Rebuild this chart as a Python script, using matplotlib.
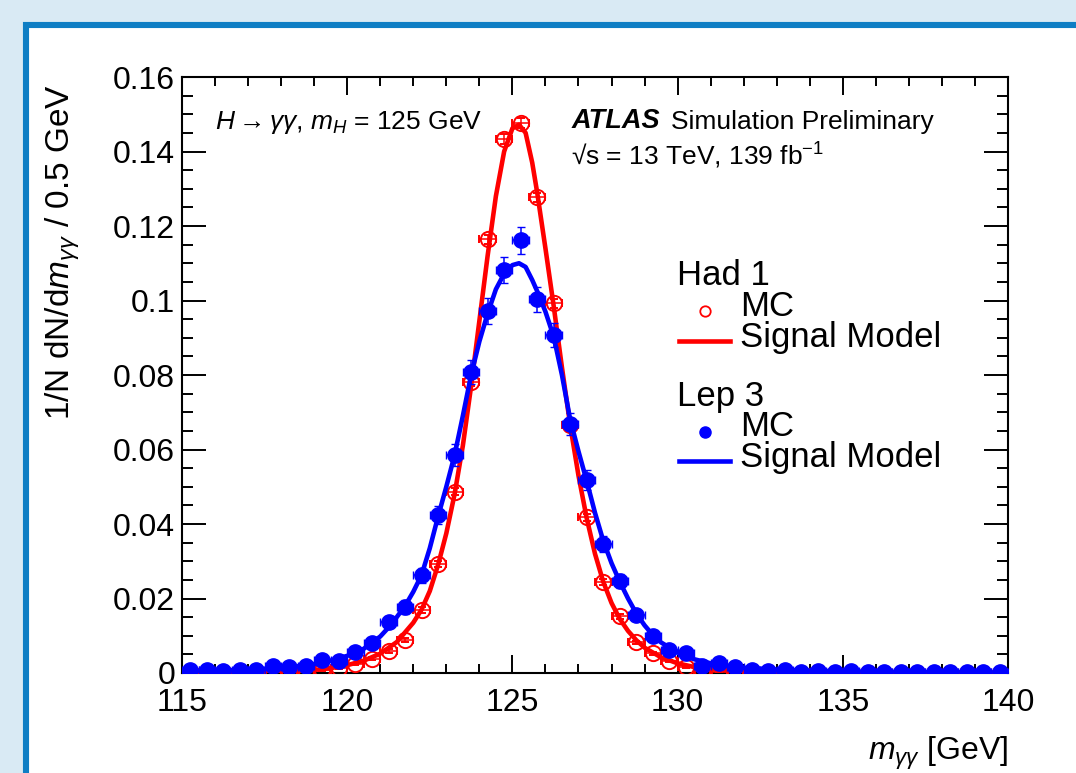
import numpy as np
import matplotlib
matplotlib.use("Agg")
import matplotlib.pyplot as plt
from matplotlib.patches import Rectangle
from matplotlib.lines import Line2D
from matplotlib.ticker import MultipleLocator, FuncFormatter

plt.rcParams['font.family'] = ['Liberation Sans', 'DejaVu Sans']
plt.rcParams['mathtext.fontset'] = 'custom'
plt.rcParams['mathtext.rm'] = 'Liberation Sans'
plt.rcParams['mathtext.it'] = 'Liberation Sans:italic'
plt.rcParams['mathtext.bf'] = 'Liberation Sans:bold'

# ---------------- data ----------------
bin_lo, bin_hi, bin_w = 115.0, 140.0, 0.5
bin_centres = np.arange(bin_lo + bin_w / 2, bin_hi, bin_w)

had1_mc = [0.0002, 0.0002, 0.0002, 0.0003, 0.0002, 0.0004, 0.0005, 0.0006, 0.0008, 0.0013,
           0.0024, 0.0038, 0.0060, 0.0089, 0.0168, 0.0293, 0.0487, 0.0782, 0.1164, 0.1433,
           0.1476, 0.1277, 0.0992, 0.0665, 0.0418, 0.0245, 0.0152, 0.0082, 0.0053, 0.0033,
           0.0017, 0.0006, 0.0004, 0.0003, 0.0002, 0.0002, 0.0002, 0.0001, 0.0002, 0.0001,
           0.0001, 0.0001, 0.0001, 0.0001, 0.0001, 0.0000, 0.0001, 0.0000, 0.0000, 0.0001]
had1_err = [0.0001, 0.0001, 0.0001, 0.0001, 0.0001, 0.0001, 0.0002, 0.0002, 0.0002, 0.0003,
            0.0003, 0.0004, 0.0005, 0.0006, 0.0008, 0.0009, 0.0010, 0.0011, 0.0012, 0.0013,
            0.0013, 0.0012, 0.0011, 0.0010, 0.0009, 0.0008, 0.0007, 0.0005, 0.0004, 0.0003,
            0.0003, 0.0002, 0.0002, 0.0001, 0.0001, 0.0001, 0.0001, 0.0001, 0.0001, 0.0001,
            0.0001, 0.0001, 0.0001, 0.0001, 0.0001, 0.0001, 0.0001, 0.0001, 0.0001, 0.0001]

lep3_mc = [0.0008, 0.0008, 0.0005, 0.0009, 0.0008, 0.0018, 0.0017, 0.0018, 0.0034, 0.0031,
           0.0057, 0.0080, 0.0137, 0.0177, 0.0262, 0.0424, 0.0585, 0.0809, 0.0972, 0.1082,
           0.1162, 0.1003, 0.0907, 0.0668, 0.0518, 0.0346, 0.0247, 0.0157, 0.0099, 0.0061,
           0.0053, 0.0018, 0.0027, 0.0017, 0.0008, 0.0006, 0.0008, 0.0004, 0.0005, 0.0004,
           0.0005, 0.0003, 0.0004, 0.0003, 0.0004, 0.0003, 0.0003, 0.0002, 0.0003, 0.0003]
lep3_err = [0.0004, 0.0004, 0.0003, 0.0004, 0.0004, 0.0006, 0.0006, 0.0006, 0.0008, 0.0008,
            0.0010, 0.0012, 0.0015, 0.0018, 0.0021, 0.0025, 0.0029, 0.0032, 0.0034, 0.0035,
            0.0036, 0.0034, 0.0033, 0.0030, 0.0026, 0.0022, 0.0019, 0.0015, 0.0012, 0.0010,
            0.0009, 0.0006, 0.0007, 0.0006, 0.0004, 0.0003, 0.0004, 0.0003, 0.0003, 0.0003,
            0.0003, 0.0002, 0.0003, 0.0002, 0.0003, 0.0002, 0.0002, 0.0002, 0.0002, 0.0002]

# signal model curves
had1_model_x = [115.0, 117.0, 118.0, 119.0, 119.5, 120.0, 120.5, 121.0, 121.5, 122.0, 122.25,
                122.5, 122.75, 123.0, 123.25, 123.5, 123.75, 124.0, 124.25, 124.5, 124.75,
                125.0, 125.2, 125.4, 125.6, 125.75, 126.0, 126.25, 126.5, 126.75, 127.0,
                127.25, 127.5, 127.75, 128.0, 128.25, 128.5, 128.75, 129.0, 129.5, 130.0,
                130.5, 131.0, 132.0, 134.0, 136.0, 140.0]
had1_model_y = [0.0001, 0.0002, 0.0004, 0.0008, 0.0013, 0.0021, 0.0033, 0.0052, 0.0083, 0.0135, 0.0170,
                0.0220, 0.0290, 0.0375, 0.0480, 0.0610, 0.0770, 0.0945, 0.1120, 0.1280, 0.1400,
                0.1462, 0.1472, 0.1450, 0.1370, 0.1290, 0.1140, 0.0985, 0.0820, 0.0665, 0.0530,
                0.0415, 0.0320, 0.0245, 0.0188, 0.0145, 0.0113, 0.0088, 0.0068, 0.0042, 0.0026,
                0.0016, 0.0010, 0.0005, 0.0002, 0.0001, 0.0000]

lep3_model_x = [115.0, 116.0, 117.0, 118.0, 118.5, 119.0, 119.5, 120.0, 120.5, 121.0, 121.25,
                121.5, 121.75, 122.0, 122.25, 122.5, 122.75, 123.0, 123.25, 123.5, 123.75,
                124.0, 124.25, 124.5, 124.75, 125.0, 125.2, 125.4, 125.6, 125.75, 126.0,
                126.25, 126.5, 126.75, 127.0, 127.25, 127.5, 127.75, 128.0, 128.25, 128.5,
                128.75, 129.0, 129.25, 129.5, 130.0, 130.5, 131.0, 131.5, 132.0, 133.0,
                134.0, 136.0, 138.0, 140.0]
lep3_model_y = [0.0004, 0.0006, 0.0009, 0.0014, 0.0018, 0.0024, 0.0033, 0.0046, 0.0065, 0.0098, 0.0122,
                0.0150, 0.0180, 0.0218, 0.0263, 0.0335, 0.0420, 0.0500, 0.0585, 0.0690, 0.0800,
                0.0890, 0.0965, 0.1030, 0.1072, 0.1095, 0.1100, 0.1090, 0.1055, 0.1025, 0.0970,
                0.0903, 0.0800, 0.0680, 0.0595, 0.0515, 0.0430, 0.0355, 0.0295, 0.0245, 0.0200,
                0.0160, 0.0128, 0.0102, 0.0082, 0.0055, 0.0037, 0.0026, 0.0019, 0.0014, 0.0009,
                0.0006, 0.0003, 0.0002, 0.0001]

x_ticks_major = [115, 120, 125, 130, 135, 140]
y_ticks_major = [0, 0.02, 0.04, 0.06, 0.08, 0.1, 0.12, 0.14, 0.16]

RED = '#ff0000'
BLUE = '#0000ff'

# ---------------- figure ----------------
W, H = 1076, 773
fig = plt.figure(figsize=(W / 100, H / 100), dpi=100)
fig.patch.set_facecolor('#d9eaf4')
frame = Rectangle((26 / W, -0.1), 1.2, 1 - 25.5 / H + 0.1,
                  transform=fig.transFigure, facecolor='white',
                  edgecolor='#0e7ec4', linewidth=4.4, zorder=-5)
fig.patches.append(frame)

ax = fig.add_axes([182 / W, 1 - 673 / H, 826 / W, 596 / H])
ax.set_zorder(2)
ax.patch.set_alpha(0)
ax.set_xlim(bin_lo, bin_hi)
ax.set_ylim(0, 0.16)

ax.errorbar(bin_centres, had1_mc, xerr=bin_w / 2, yerr=had1_err, fmt='o', ms=11,
            mfc='none', mec=RED, mew=1.4, ecolor=RED, elinewidth=1.1, capsize=2.8,
            capthick=1.1, zorder=3)
ax.plot(had1_model_x, had1_model_y, color=RED, lw=3.3, zorder=4)
ax.errorbar(bin_centres, lep3_mc, xerr=bin_w / 2, yerr=lep3_err, fmt='o', ms=11,
            mfc=BLUE, mec=BLUE, mew=1.0, ecolor=BLUE, elinewidth=1.1, capsize=2.8,
            capthick=1.1, zorder=5)
ax.plot(lep3_model_x, lep3_model_y, color=BLUE, lw=3.3, zorder=6)

# axes style
for s in ax.spines.values():
    s.set_linewidth(1.5)
ax.set_xticks(x_ticks_major)
ax.set_yticks(y_ticks_major)
ax.xaxis.set_minor_locator(MultipleLocator(1))
ax.yaxis.set_minor_locator(MultipleLocator(0.005))
ax.yaxis.set_major_formatter(FuncFormatter(lambda v, p: f"{v:g}"))
ax.tick_params(which='both', direction='in', top=True, right=True, width=1.4,
               labelsize=23)
ax.tick_params(axis='x', which='major', length=13, pad=11)
ax.tick_params(axis='x', which='minor', length=6.5)
ax.tick_params(axis='y', which='major', length=17, pad=5)
ax.tick_params(axis='y', which='minor', length=8)
for lbl in ax.get_yticklabels():
    lbl.set_verticalalignment('center_baseline')

# axis titles
fig.text(63 / W, 1 - 84 / H, r"1/N dN/d$m_{\gamma\gamma}$ / 0.5 GeV", rotation=90,
         ha='center', va='top', fontsize=24)
fig.text(1008 / W, 1 - 760 / H, r"$m_{\gamma\gamma}$ [GeV]", ha='right',
         va='baseline', fontsize=23)

# annotations
fig.text(215 / W, 1 - 129 / H, r"$H\rightarrow\gamma\gamma$, $m_{H}$ = 125 GeV",
         ha='left', va='baseline', fontsize=19)
fig.text(572 / W, 1 - 128.5 / H, "ATLAS", ha='left', va='baseline', fontsize=19.5,
         fontweight='bold', fontstyle='italic')
fig.text(671 / W, 1 - 128.5 / H, "Simulation Preliminary", ha='left', va='baseline',
         fontsize=19)
fig.text(571 / W, 1 - 165 / H, r"√s = 13 TeV, 139 fb$^{\mathregular{-1}}$", ha='left',
         va='baseline', fontsize=19)

# legend (drawn manually, ROOT style)
def fx(px):
    return px / W

def fy(py):
    return 1 - py / H

leg_fs = 25
fig.text(fx(677), fy(275), "Had 1", ha='left', va='center', fontsize=leg_fs, zorder=10)
fig.add_artist(Line2D([fx(705)], [fy(311)], marker='o', ms=7.5, mfc='none', mec=RED,
                      mew=1.3, transform=fig.transFigure, zorder=10))
fig.text(fx(740), fy(307), "MC", ha='left', va='center', fontsize=leg_fs, zorder=10)
fig.add_artist(Line2D([fx(679), fx(730)], [fy(340.5), fy(340.5)], color=RED, lw=3.3,
                      transform=fig.transFigure, zorder=10))
fig.text(fx(740), fy(337), "Signal Model", ha='left', va='center', fontsize=leg_fs, zorder=10)

fig.text(fx(677), fy(396), "Lep 3", ha='left', va='center', fontsize=leg_fs, zorder=10)
fig.add_artist(Line2D([fx(705)], [fy(431.5)], marker='o', ms=8, mfc=BLUE, mec=BLUE,
                      transform=fig.transFigure, zorder=10))
fig.text(fx(740), fy(427), "MC", ha='left', va='center', fontsize=leg_fs, zorder=10)
fig.add_artist(Line2D([fx(679), fx(730)], [fy(461.5), fy(461.5)], color=BLUE, lw=3.3,
                      transform=fig.transFigure, zorder=10))
fig.text(fx(740), fy(457), "Signal Model", ha='left', va='center', fontsize=leg_fs, zorder=10)

fig.savefig("out.png", dpi=100, facecolor=fig.get_facecolor())
